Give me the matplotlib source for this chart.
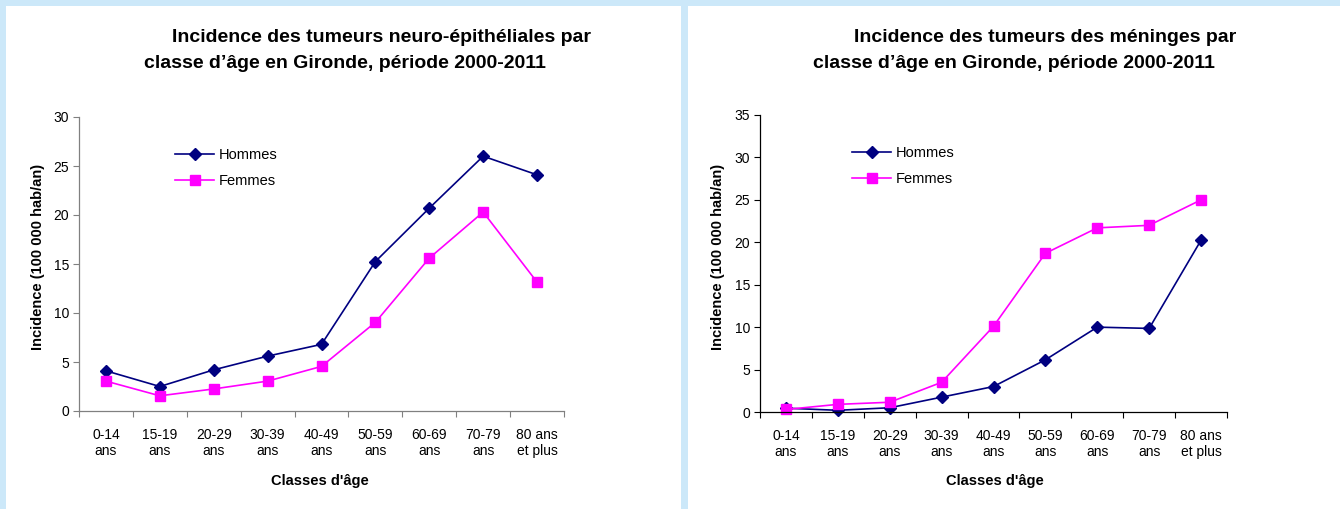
import matplotlib
matplotlib.use("Agg")
import matplotlib.pyplot as plt
from matplotlib.patches import Rectangle

plt.rcParams['font.family'] = ['Liberation Sans', 'DejaVu Sans']

categories = ["0-14\nans", "15-19\nans", "20-29\nans", "30-39\nans", "40-49\nans",
              "50-59\nans", "60-69\nans", "70-79\nans", "80 ans\net plus"]

neuro_hommes = [4.1, 2.5, 4.2, 5.6, 6.8, 15.25, 20.7, 26.0, 24.1]
neuro_femmes = [3.05, 1.55, 2.25, 3.05, 4.55, 9.05, 15.6, 20.3, 13.15]

men_hommes = [0.45, 0.2, 0.5, 1.75, 3.0, 6.15, 10.0, 9.85, 20.25]
men_femmes = [0.3, 0.9, 1.15, 3.5, 10.1, 18.7, 21.7, 22.0, 25.0]

titles = [("Incidence des tumeurs neuro-épithéliales par", "classe d’âge en Gironde, période 2000-2011"),
          ("Incidence des tumeurs des méninges par", "classe d’âge en Gironde, période 2000-2011")]

W, H = 1340, 509
fig = plt.figure(figsize=(W / 100, H / 100), dpi=100)
fig.patch.set_facecolor('#CCE8F9')

def fx(px):
    return px / W

def fy(py):
    return 1 - py / H

# white panels
fig.patches.append(Rectangle((fx(6), 0), fx(681 - 6), fy(6), transform=fig.transFigure,
                             facecolor='white', edgecolor='none', zorder=-10))
fig.patches.append(Rectangle((fx(688), 0), fx(W - 688), fy(6), transform=fig.transFigure,
                             facecolor='white', edgecolor='none', zorder=-10))

def make_panel(rect, hommes, femmes, ymax, spine_color, title, title_x, ylabel_x, xlabel_x, legend_xy):
    ax = fig.add_axes(rect)
    ax.set_zorder(2)
    ax.set_facecolor('none')
    x = list(range(len(categories)))
    ax.plot(x, hommes, color='#000080', marker='D', markersize=6, linewidth=1.2, label='Hommes', clip_on=False)
    ax.plot(x, femmes, color='#FF00FF', marker='s', markersize=6.5, linewidth=1.2, label='Femmes', clip_on=False)
    ax.set_xlim(-0.5, len(categories) - 0.5)
    ax.set_ylim(0, ymax)
    ax.set_yticks(range(0, ymax + 1, 5))
    ax.set_xticks(x)
    ax.set_xticklabels(categories, fontsize=10, linespacing=1.25)
    ax.set_xticks([i - 0.5 for i in range(len(categories) + 1)], minor=True)
    ax.tick_params(axis='x', which='major', length=0, pad=12)
    ax.tick_params(axis='x', which='minor', length=4, width=0.8, color=spine_color, direction='out')
    ax.tick_params(axis='y', length=4, width=0.8, color=spine_color, labelsize=10, pad=3)
    for s in ['top', 'right']:
        ax.spines[s].set_visible(False)
    for s in ['left', 'bottom']:
        ax.spines[s].set_color(spine_color)
        ax.spines[s].set_linewidth(0.9)
    fig.text(fx(title_x[0]), fy(37), title[0], ha='center', va='center', fontsize=14, fontweight='bold')
    fig.text(fx(title_x[1]), fy(63), title[1], ha='center', va='center', fontsize=14, fontweight='bold')
    fig.text(fx(ylabel_x), fy(257), "Incidence (100 000 hab/an)", rotation=90, ha='center', va='center',
             fontsize=10.5, fontweight='bold')
    fig.text(fx(xlabel_x), fy(481), "Classes d'âge", ha='center', va='center', fontsize=10.5, fontweight='bold')
    ax.legend(loc='upper left', bbox_to_anchor=(fx(legend_xy[0]), fy(legend_xy[1])),
              bbox_transform=fig.transFigure, frameon=False, fontsize=10.5,
              handlelength=2.7, handletextpad=0.3, labelspacing=0.85, borderpad=0, borderaxespad=0)
    return ax

make_panel([fx(79), fy(411), fx(564 - 79), fy(117) - fy(411)], neuro_hommes, neuro_femmes, 30, '#808080',
           titles[0], (382, 345), 38, 320, (175, 148))
make_panel([fx(760), fy(412), fx(1227 - 760), fy(115) - fy(412)], men_hommes, men_femmes, 35, '#000000',
           titles[1], (1045, 1014), 718, 995, (852, 146))

fig.savefig("out.png", dpi=100, facecolor=fig.get_facecolor())
